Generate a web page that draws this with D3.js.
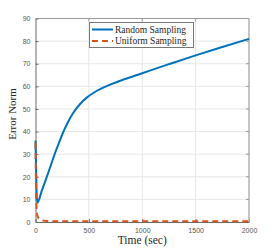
<!DOCTYPE html>
<html><head><meta charset="utf-8">
<script src="https://cdn.jsdelivr.net/npm/d3@7"></script>
<style>body{margin:0;background:#fff}svg{display:block}</style>
</head><body>
<script>
const timeRandom = [0, 5, 10, 17, 60, 110, 150, 183, 220, 251, 300, 354, 420, 480, 560, 682, 807, 1000, 1250, 1500, 1750, 2000];
const errRandom  = [36, 25, 14, 8.5, 14, 20.5, 26, 30.5, 35, 38.8, 43.8, 48.3, 52.3, 55, 57.6, 60.4, 62.7, 65.8, 69.8, 73.7, 77.4, 81];
const timeUniform = [0, 3, 6, 10, 15, 25, 42, 60, 90, 150, 300, 1000, 2000];
const errUniform  = [35, 22, 12, 6, 3.5, 2, 1.2, 0.8, 0.5, 0.35, 0.3, 0.3, 0.3];
const xTicks = [0, 500, 1000, 1500, 2000];
const yTicks = [0, 10, 20, 30, 40, 50, 60, 70, 80, 90];
const seriesNames = ["Random Sampling", "Uniform Sampling"];
const colors = ["#0072BD", "#D95319"];

const W = 275, H = 250;
const m = {l: 35.5, t: 18.5, r: 26, b: 28};
const svg = d3.select("body").append("svg").attr("width", W).attr("height", H);
const x = d3.scaleLinear().domain([0, 2000]).range([m.l, W - m.r]);
const y = d3.scaleLinear().domain([0, 90]).range([H - m.b, m.t]);

// grid
svg.append("g").selectAll("line").data(xTicks.slice(1, -1)).join("line")
  .attr("x1", d => x(d)).attr("x2", d => x(d)).attr("y1", y(0)).attr("y2", y(90))
  .attr("stroke", "#e6e6e6").attr("stroke-width", 1);
svg.append("g").selectAll("line").data(yTicks.slice(1, -1)).join("line")
  .attr("y1", d => y(d)).attr("y2", d => y(d)).attr("x1", x(0)).attr("x2", x(2000))
  .attr("stroke", "#e6e6e6").attr("stroke-width", 1);

// axes
const fontTick = "Liberation Sans, Arial, sans-serif";
const xa = svg.append("g").attr("transform", `translate(0,${y(0)})`)
  .call(d3.axisBottom(x).tickValues(xTicks).tickFormat(d3.format("d")).tickSizeInner(-3).tickSizeOuter(0).tickPadding(6));
const ya = svg.append("g").attr("transform", `translate(${x(0)},0)`)
  .call(d3.axisLeft(y).tickValues(yTicks).tickFormat(d3.format("d")).tickSizeInner(-3).tickSizeOuter(0).tickPadding(5));
[xa, ya].forEach(a => {
  a.select(".domain").attr("stroke", "#6a6a6a");
  a.selectAll(".tick line").attr("stroke", "#6a6a6a");
  a.selectAll("text").attr("font-family", fontTick).attr("font-size", 7).attr("fill", "#555");
});
// top & right box
svg.append("line").attr("x1", x(0)).attr("x2", x(2000)).attr("y1", y(90)).attr("y2", y(90)).attr("stroke", "#9a9a9a");
svg.append("line").attr("x1", x(2000)).attr("x2", x(2000)).attr("y1", y(90)).attr("y2", y(0)).attr("stroke", "#b0b0b0").attr("stroke-width", 1.5);
svg.append("g").selectAll("line").data(yTicks.slice(1, -1)).join("line")
  .attr("x1", x(2000) - 3).attr("x2", x(2000)).attr("y1", d => y(d)).attr("y2", d => y(d)).attr("stroke", "#9a9a9a");
svg.append("g").selectAll("line").data(xTicks.slice(1, -1)).join("line")
  .attr("y1", y(90)).attr("y2", y(90) + 3).attr("x1", d => x(d)).attr("x2", d => x(d)).attr("stroke", "#9a9a9a");

// lines
const line = d3.line().x(d => x(d[0])).y(d => y(d[1])).curve(d3.curveMonotoneX);
svg.append("path").datum(timeRandom.map((t, i) => [t, errRandom[i]]))
  .attr("d", line).attr("fill", "none").attr("stroke", colors[0]).attr("stroke-width", 2);
svg.append("path").datum(timeUniform.map((t, i) => [t, errUniform[i]]))
  .attr("d", line).attr("fill", "none").attr("stroke", colors[1]).attr("stroke-width", 2)
  .attr("stroke-dasharray", "6,4");

// axis labels
const serif = "Liberation Serif, Times New Roman, serif";
svg.append("text").attr("x", (x(0) + x(2000)) / 2).attr("y", 244).attr("text-anchor", "middle")
  .attr("font-family", serif).attr("font-size", 11.5).attr("fill", "#262626").text("Time (sec)");
svg.append("text").attr("transform", `translate(15.5,114) rotate(-90)`)
  .attr("text-anchor", "middle").attr("font-family", serif).attr("font-size", 11).attr("fill", "#262626").text("Error Norm");

// legend
const lg = svg.append("g");
lg.append("rect").attr("x", 89.5).attr("y", 22.5).attr("width", 104).attr("height", 25)
  .attr("fill", "#fff").attr("stroke", "#777").attr("stroke-width", 1);
seriesNames.forEach((n, i) => {
  const yy = 29.5 + i * 11.5;
  lg.append("line").attr("x1", 92).attr("x2", 113).attr("y1", yy).attr("y2", yy)
    .attr("stroke", colors[i]).attr("stroke-width", 2).attr("stroke-dasharray", i ? "6,4" : null);
  lg.append("text").attr("x", 115).attr("y", yy + 3.3).attr("font-family", serif).attr("font-size", 9.5)
    .attr("fill", "#262626").text(n);
});
</script>
</body></html>
